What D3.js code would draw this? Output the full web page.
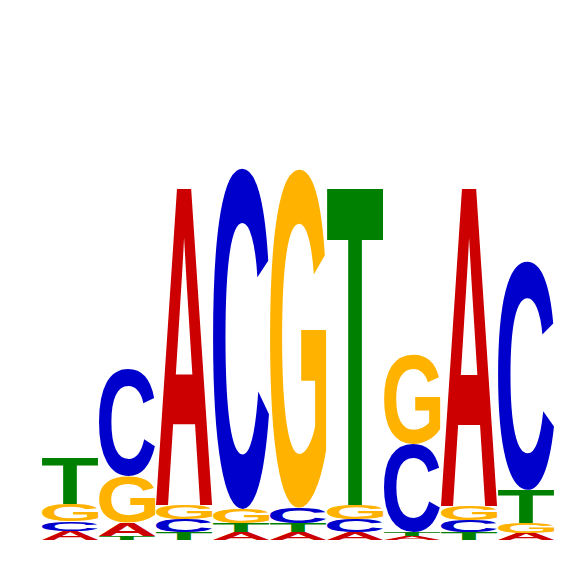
<!DOCTYPE html>
<html>
<head>
<meta charset="utf-8">
<script src="https://cdn.jsdelivr.net/npm/d3@7"></script>
<style>
  html, body { margin: 0; padding: 0; background: #fff; }
</style>
</head>
<body>
<svg id="logo" width="566" height="566"></svg>
<script>
// letters and their colours
var letters = ["A", "C", "G", "T"];
var colors = ["#CC0000", "#0000CC", "#FFB300", "#008000"];
var positions = [1, 2, 3, 4, 5, 6, 7, 8, 9];

// heights in bits for each position
var bitsA = [0.035, 0.049, 1.192, 0.030, 0.030, 0.030, 0.015, 1.196, 0.026];
var bitsC = [0.036, 0.400, 0.049, 1.283, 0.057, 0.049, 0.332, 0.045, 0.860];
var bitsG = [0.064, 0.174, 0.053, 0.053, 1.275, 0.053, 0.336, 0.053, 0.038];
var bitsT = [0.174, 0.015, 0.030, 0.034, 0.034, 1.192, 0.016, 0.030, 0.125];

window.onload = function () {
    drawLogo();
};

// measure the ink box of a glyph by scanning canvas pixels
function glyphBox(ch, fontFamily, size) {
    var W = size * 2, H = size * 2;
    var canvas = document.createElement("canvas");
    canvas.width = W;
    canvas.height = H;
    var ctx = canvas.getContext("2d");
    ctx.font = "bold " + size + "px " + fontFamily;
    ctx.fillStyle = "#000";
    var ox = size * 0.5, oy = size * 1.5;
    ctx.fillText(ch, ox, oy);
    var data = ctx.getImageData(0, 0, W, H).data;
    var minX = W, maxX = -1, minY = H, maxY = -1;
    for (var j = 0; j < H; j++) {
        for (var i = 0; i < W; i++) {
            if (data[(j * W + i) * 4 + 3] > 127) {
                if (i < minX) minX = i;
                if (i > maxX) maxX = i;
                if (j < minY) minY = j;
                if (j > maxY) maxY = j;
            }
        }
    }
    return {
        left: ox - minX,
        right: maxX + 1 - ox,
        ascent: oy - minY,
        descent: maxY + 1 - oy
    };
}

function drawLogo() {
    var svg = d3.select("#logo");
    var fontFamily = "'Liberation Sans', Arial, Helvetica, sans-serif";
    var size = 400;

    var x = d3.scaleBand()
        .domain(positions)
        .range([42, 555])
        .paddingInner(0);

    var y = d3.scaleLinear()
        .domain([0, 2])
        .range([540, 10]);

    var series = [bitsA, bitsC, bitsG, bitsT];

    // build stacks, smallest letter at the bottom
    var stacks = positions.map(function (p, i) {
        var items = letters.map(function (l, k) {
            return { letter: l, color: colors[k], bits: series[k][i], order: k };
        });
        items.sort(function (a, b) {
            return a.bits - b.bits || a.order - b.order;
        });
        var base = 0;
        items.forEach(function (d) {
            d.y0 = base;
            d.y1 = base + d.bits;
            base = d.y1;
        });
        return { pos: p, items: items };
    });

    var boxes = {};
    letters.forEach(function (l) {
        boxes[l] = glyphBox(l, fontFamily, size);
    });

    var cols = svg.selectAll("g.col")
        .data(stacks)
        .enter()
        .append("g")
        .attr("class", "col");

    cols.selectAll("text")
        .data(function (d) {
            return d.items.map(function (it) {
                it.pos = d.pos;
                return it;
            });
        })
        .enter()
        .append("text")
        .attr("font-family", fontFamily)
        .attr("font-weight", "bold")
        .attr("font-size", size)
        .attr("fill", function (d) { return d.color; })
        .attr("transform", function (d) {
            var b = boxes[d.letter];
            var w = x.bandwidth() - 1;
            var top = y(d.y1), bottom = y(d.y0);
            var h = bottom - top;
            var sx = w / (b.left + b.right);
            var sy = h / (b.ascent + b.descent);
            return "translate(" + x(d.pos) + "," + top + ") scale(" + sx + "," + sy + ") translate(" + b.left + "," + b.ascent + ")";
        })
        .text(function (d) { return d.letter; });
}
</script>
</body>
</html>
